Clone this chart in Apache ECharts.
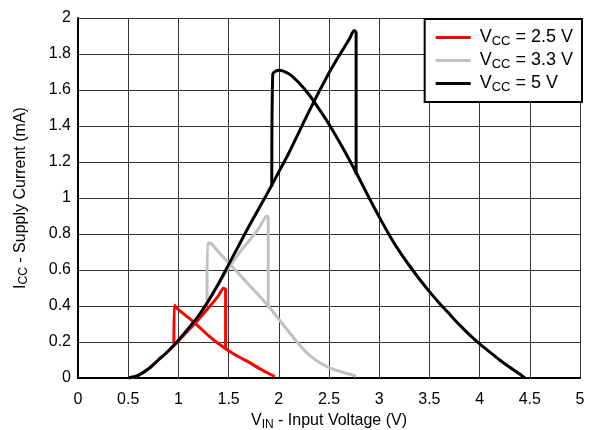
<!DOCTYPE html>
<html>
<head>
<meta charset="utf-8">
<script src="https://cdn.jsdelivr.net/npm/echarts@6/dist/echarts.min.js"></script>
<style>html,body{margin:0;padding:0;background:#fff;overflow:hidden}#c{width:593px;height:430px}</style>
</head>
<body>
<div id="c"></div>
<script>
// X axis ticks
var xTicks = [0, 0.5, 1, 1.5, 2, 2.5, 3, 3.5, 4, 4.5, 5];
var yTicks = [0, 0.2, 0.4, 0.6, 0.8, 1, 1.2, 1.4, 1.6, 1.8, 2];
var seriesNames = ['2.5 V', '3.3 V', '5 V'];

// VCC = 2.5 V
var vin25Rise = [0.5, 0.6, 0.7, 0.8, 0.9, 1.0, 1.1, 1.2, 1.3, 1.4, 1.45, 1.47, 1.47];
var icc25Rise = [0, 0.015, 0.05, 0.1, 0.15, 0.205, 0.265, 0.325, 0.39, 0.458, 0.498, 0.49, 0.16];
var vin25Fall = [0.955, 0.96, 1.0, 1.1, 1.2, 1.3, 1.4, 1.5, 1.6, 1.7, 1.8, 1.9, 1.96];
var icc25Fall = [0.19, 0.405, 0.38, 0.335, 0.287, 0.235, 0.19, 0.152, 0.118, 0.088, 0.055, 0.025, 0.008];

// VCC = 3.3 V
var vin33Rise = [0.5, 0.6, 0.7, 0.8, 0.9, 1.0, 1.1, 1.2, 1.3, 1.4, 1.5, 1.6, 1.7, 1.8, 1.88, 1.895, 1.895];
var icc33Rise = [0, 0.015, 0.05, 0.1, 0.15, 0.21, 0.275, 0.345, 0.43, 0.52, 0.61, 0.69, 0.76, 0.83, 0.9, 0.89, 0.40];
var vin33Fall = [1.285, 1.29, 1.33, 1.4, 1.5, 1.6, 1.7, 1.8, 1.9, 2.0, 2.1, 2.2, 2.3, 2.4, 2.5, 2.6, 2.7, 2.77];
var icc33Fall = [0.43, 0.75, 0.745, 0.70, 0.64, 0.58, 0.52, 0.46, 0.397, 0.327, 0.257, 0.188, 0.13, 0.088, 0.058, 0.038, 0.022, 0.01];

// VCC = 5 V
var vin5Rise = [0.5, 0.6, 0.7, 0.8, 0.9, 1.0, 1.1, 1.2, 1.3, 1.4, 1.5, 1.6, 1.7, 1.8, 1.9, 2.0, 2.1, 2.2, 2.3, 2.4, 2.5, 2.6, 2.7, 2.75, 2.77, 2.77];
var icc5Rise = [0, 0.015, 0.05, 0.1, 0.15, 0.21, 0.275, 0.345, 0.43, 0.525, 0.63, 0.735, 0.84, 0.94, 1.04, 1.145, 1.25, 1.365, 1.48, 1.59, 1.695, 1.79, 1.88, 1.93, 1.92, 1.13];
var vin5Fall = [1.93, 1.94, 1.97, 2.0, 2.1, 2.2, 2.3, 2.4, 2.5, 2.6, 2.7, 2.8, 2.9, 3.0, 3.1, 3.2, 3.3, 3.4, 3.5, 3.6, 3.7, 3.8, 3.9, 4.0, 4.1, 4.2, 4.3, 4.4, 4.45];
var icc5Fall = [1.063, 1.69, 1.705, 1.71, 1.69, 1.64, 1.575, 1.495, 1.41, 1.315, 1.215, 1.11, 1.0, 0.895, 0.795, 0.705, 0.625, 0.55, 0.48, 0.415, 0.355, 0.295, 0.24, 0.19, 0.145, 0.10, 0.06, 0.022, 0];

function zip(xs, ys) { return xs.map(function (x, i) { return [x, ys[i]]; }); }

var FONT = '"Liberation Sans", Arial, sans-serif';
var colors = ['#ff0000', '#c0c0c0', '#000000'];
function legendName(n) { return 'VCC = ' + n; }

function mk(name, color, data) {
  return {
    name: name, type: 'line', data: data, symbol: 'none', showSymbol: false,
    smooth: 0.25,
    lineStyle: { color: color, width: 3 }, itemStyle: { color: color },
    animation: false
  };
}

var chart = echarts.init(document.getElementById('c'));
chart.setOption({
  animation: false,
  textStyle: { fontFamily: FONT },
  grid: { left: 78, right: 13, top: 18, bottom: 52, containLabel: false, outerBoundsMode: 'none' },
  legend: {
    orient: 'vertical', right: 11, top: 19,
    data: seriesNames.map(function (n) { return { name: legendName(n), icon: 'rect' }; }),
    backgroundColor: '#fff', borderColor: '#000', borderWidth: 2, borderRadius: 0,
    padding: [8, 9, 8, 11], itemGap: 2, itemWidth: 35, itemHeight: 3,
    formatter: function (n) { return '{v|V}{b|CC}{a|' + n.slice(3) + '}'; },
    textStyle: {
      rich: {
        v: { fontSize: 18, fontFamily: FONT, color: '#000', lineHeight: 20, padding: [0, 0, 0, 4] },
        a: { fontSize: 18, fontFamily: FONT, color: '#000', lineHeight: 20 },
        b: { fontSize: 13, fontFamily: FONT, color: '#000', padding: [8, 0, 0, 0], lineHeight: 20 }
      }
    }
  },
  xAxis: {
    type: 'value', min: 0, max: 5, interval: 0.5,
    name: '{a|V}{b|IN}{a| - Input Voltage (V)}', nameLocation: 'middle', nameGap: 32,
    nameTextStyle: {
      rich: {
        a: { fontSize: 16, fontFamily: FONT, color: '#000' },
        b: { fontSize: 12, fontFamily: FONT, color: '#000', padding: [7, 0, 0, 0] }
      }
    },
    axisLine: { show: true, onZero: false, lineStyle: { color: '#000', width: 2 } },
    axisTick: { show: false },
    axisLabel: { color: '#000', fontSize: 16, fontFamily: FONT, margin: 14,
      formatter: function (v) { return xTicks.indexOf(v) >= 0 ? String(v) : ''; } },
    splitLine: { show: true, lineStyle: { color: '#333', width: 1 } }
  },
  yAxis: {
    type: 'value', min: 0, max: 2, interval: 0.2,
    name: '{a|I}{b|CC}{a| - Supply Current (mA)}', nameLocation: 'middle', nameGap: 48, nameRotate: 90,
    nameTextStyle: {
      rich: {
        a: { fontSize: 16, fontFamily: FONT, color: '#000' },
        b: { fontSize: 12, fontFamily: FONT, color: '#000', padding: [7, 0, 0, 0] }
      }
    },
    axisLine: { show: true, onZero: false, lineStyle: { color: '#000', width: 2 } },
    axisTick: { show: false },
    axisLabel: { color: '#000', fontSize: 16, fontFamily: FONT, margin: 7,
      formatter: function (v) { var r = Math.round(v * 10) / 10; return String(r); } },
    splitLine: { show: true, lineStyle: { color: '#333', width: 1 } }
  },
  series: [
    mk(legendName(seriesNames[0]), colors[0], zip(vin25Rise, icc25Rise)),
    mk(legendName(seriesNames[0]), colors[0], zip(vin25Fall, icc25Fall)),
    mk(legendName(seriesNames[1]), colors[1], zip(vin33Rise, icc33Rise)),
    mk(legendName(seriesNames[1]), colors[1], zip(vin33Fall, icc33Fall)),
    mk(legendName(seriesNames[2]), colors[2], zip(vin5Rise, icc5Rise)),
    mk(legendName(seriesNames[2]), colors[2], zip(vin5Fall, icc5Fall))
  ]
});
</script>
</body>
</html>
